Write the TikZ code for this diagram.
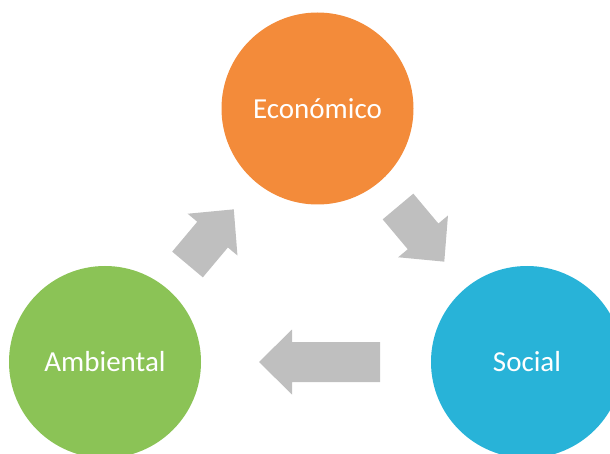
\documentclass[tikz,border=0pt]{standalone}
\usepackage{fontspec}
\setmainfont{Carlito}
\definecolor{econ}{HTML}{F38B3A}
\definecolor{soc}{HTML}{28B3D8}
\definecolor{amb}{HTML}{8BC356}
\definecolor{arrowgray}{HTML}{BFBFBF}
\tikzset{
  pillar/.style={circle, minimum size=192pt, inner sep=0pt, text=white,
    font=\fontsize{29}{34}\selectfont},
  blk/.pic={\fill[arrowgray] (0,-20)--(#1,-20)--(#1,-32.5)--({#1+33},0)--(#1,32.5)--(#1,20)--(0,20)--cycle;}
}
\begin{document}
\begin{tikzpicture}[x=1pt,y=-1pt]
\useasboundingbox (0,0) rectangle (610,454);
\clip (0,0) rectangle (610,454);
\node[pillar, fill=econ] (econ) at (317.5,108.5) {Económico};
\node[pillar, fill=amb] (amb) at (105,362) {Ambiental};
\node[pillar, fill=soc] (soc) at (527,362) {Social};
\pic[shift={(187.5,264.5)}, rotate=50] {blk=39};
\pic[shift={(398,206.5)}, rotate=-50] {blk=39};
\pic[shift={(380,362)}, rotate=180] {blk=88};
\end{tikzpicture}
\end{document}
